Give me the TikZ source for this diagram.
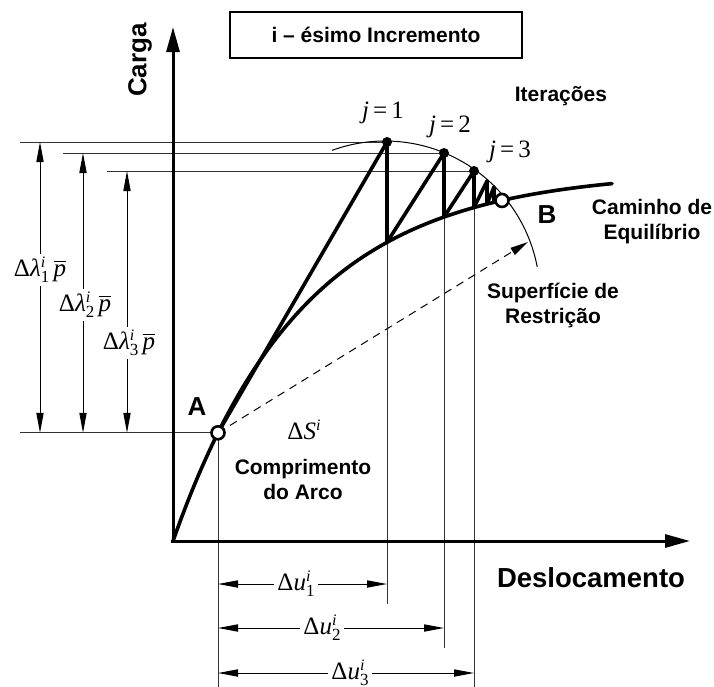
\documentclass[tikz,border=0pt]{standalone}
\usepackage{fontspec}
\setmainfont{Liberation Sans}
\newfontfamily\tms{Liberation Serif}
\usetikzlibrary{arrows.meta}
\newcommand\supsubx[2]{\makebox[0pt][l]{\raisebox{0.75ex}{\fontsize{8}{8}\selectfont\textit{#1}}}\raisebox{-0.55ex}{\fontsize{8.5}{8}\selectfont #2}}
\newcommand\pbarx{\ensuremath{\overline{\hbox{\textit{p}}}}}
\begin{document}
\begin{tikzpicture}[x=0.5pt,y=-0.5pt,
  declare function={eqy(\t)=541-370*(1-exp(-(\t-173)/130));},
  thinline/.style={line width=0.5pt,black!80},
  thickline/.style={line width=1.8pt,line cap=round,line join=round},
  axisline/.style={line width=1.5pt,-{Triangle[length=12.5pt,width=6.5pt]}},
  dimline/.style={line width=0.5pt,{Triangle[length=10pt,width=3.6pt]}-{Triangle[length=10pt,width=3.6pt]}},
  sanslabel/.style={font=\fontsize{10.5}{12.5}\selectfont\bfseries,align=center,inner sep=1pt},
  biglabel/.style={font=\fontsize{13}{15}\selectfont\bfseries,inner sep=1pt},
  mathlabel/.style={font=\tms\fontsize{12.5}{14}\selectfont,inner sep=1pt},
  dimlabel/.style={font=\tms\fontsize{12.5}{14}\selectfont,fill=white,inner sep=1.5pt},
  opendot/.style={circle,draw,line width=1.3pt,fill=white,minimum size=6.5pt,inner sep=0pt},
  fulldot/.style={circle,fill=black,minimum size=5pt,inner sep=0pt}
]
\useasboundingbox (0,0) rectangle (714,687);

% coordinates
\coordinate (O) at (173,541);
\coordinate (Ytip) at (173,27);
\coordinate (Xtip) at (690,541);
\coordinate (Apt) at (218,{eqy(218)});
\coordinate (Aleft) at (20,{eqy(218)});
\coordinate (Bpt) at (502,{eqy(502)});
\coordinate (J1) at (387,142);
\coordinate (J2) at (444,153);
\coordinate (J3) at (474,171);
\coordinate (C1) at (387,{eqy(387)});
\coordinate (C2) at (444,{eqy(444)});
\coordinate (C3) at (474,{eqy(474)});
\coordinate (K1) at (487,181);
\coordinate (D1) at (487,{eqy(487)});
\coordinate (K2) at (494,187);
\coordinate (D2) at (494,{eqy(494)});
\coordinate (S) at (528,242);

% thin reference lines
\draw[thinline] (Aleft) -- (Apt);
\draw[thinline] (20,142) -- (J1);
\draw[thinline] (63,153) -- (J2);
\draw[thinline] (107,171) -- (J3);
\draw[thinline] (Apt) -- (218,687);
\draw[thinline] (C1) -- (387,604);
\draw[thinline] (C2) -- (444,648);
\draw[thinline] (C3) -- (474,687);

% constraint arc
\draw[line width=0.5pt] plot[domain=-110:-10.8,samples=80] ({385+155*cos(\x)},{296+155*sin(\x)});

% dashed arc length
\draw[line width=0.5pt,dash pattern=on 4pt off 3pt,-{Triangle[length=9pt,width=4pt]}] (Apt) -- (S);

% equilibrium path
\draw[thickline] plot[domain=173:612,samples=120] (\x,{eqy(\x)});

% iterations
\draw[thickline] (Apt) -- (J1) -- (C1) -- (J2) -- (C2) -- (J3) -- (C3) -- (K1) -- (D1) -- (K2) -- (D2);

% axes
\draw[axisline] (O) -- (Ytip);
\draw[axisline] (171,541) -- (Xtip);

% dots
\node[fulldot] (d1) at (J1) {};
\node[fulldot] (d2) at (J2) {};
\node[fulldot] (d3) at (J3) {};
\node[opendot] (nA) at (Apt) {};
\node[opendot] (nB) at (Bpt) {};

% vertical dimensions
\draw[dimline] (40,142) -- (40,{eqy(218)});
\draw[dimline] (83,153) -- (83,{eqy(218)});
\draw[dimline] (127,171) -- (127,{eqy(218)});
\node[dimlabel] (l1) at (40,270) {Δ\textit{λ}\supsubx{i}{1}\,\pbarx};
\node[dimlabel] (l2) at (85,305) {Δ\textit{λ}\supsubx{i}{2}\,\pbarx};
\node[dimlabel] (l3) at (129,343) {Δ\textit{λ}\supsubx{i}{3}\,\pbarx};

% horizontal dimensions
\draw[dimline] (218,584) -- (387,584);
\draw[dimline] (218,628) -- (444,628);
\draw[dimline] (218,673) -- (474,673);
\node[dimlabel] (u1) at (296,584) {Δ\textit{u}\supsubx{i}{1}\hspace{4pt}};
\node[dimlabel] (u2) at (322,628) {Δ\textit{u}\supsubx{i}{2}\hspace{4pt}};
\node[dimlabel] (u3) at (350,673) {Δ\textit{u}\supsubx{i}{3}\hspace{4pt}};

% texts
\node[draw,line width=0.75pt,minimum width=146pt,minimum height=23pt,sanslabel] (box) at (376,35) {i – ésimo Incremento};
\node[biglabel,rotate=90] (carga) at (140,60) {Carga};
\node[font=\fontsize{13.75}{16}\selectfont\bfseries,inner sep=1pt] (desl) at (591,578) {Deslocamento};
\node[sanslabel] (iter) at (561,96) {Iterações};
\node[mathlabel] (j1) at (383,113) {\textit{j}\,=\,1};
\node[mathlabel] (j2) at (450,127) {\textit{j}\,=\,2};
\node[mathlabel] (j3) at (510,152) {\textit{j}\,=\,3};
\node[biglabel] (lA) at (197,407) {A};
\node[biglabel] (lB) at (547,215) {B};
\node[sanslabel] (cam) at (652,222) {Caminho de\\Equilíbrio};
\node[sanslabel] (sup) at (553,305) {Superfície de\\Restrição};
\node[mathlabel] (ds) at (304,430) {Δ\textit{S}\raisebox{0.8ex}{\fontsize{8}{8}\selectfont\textit{i}}};
\node[sanslabel] (comp) at (303,479) {Comprimento\\do Arco};
\end{tikzpicture}
\end{document}
